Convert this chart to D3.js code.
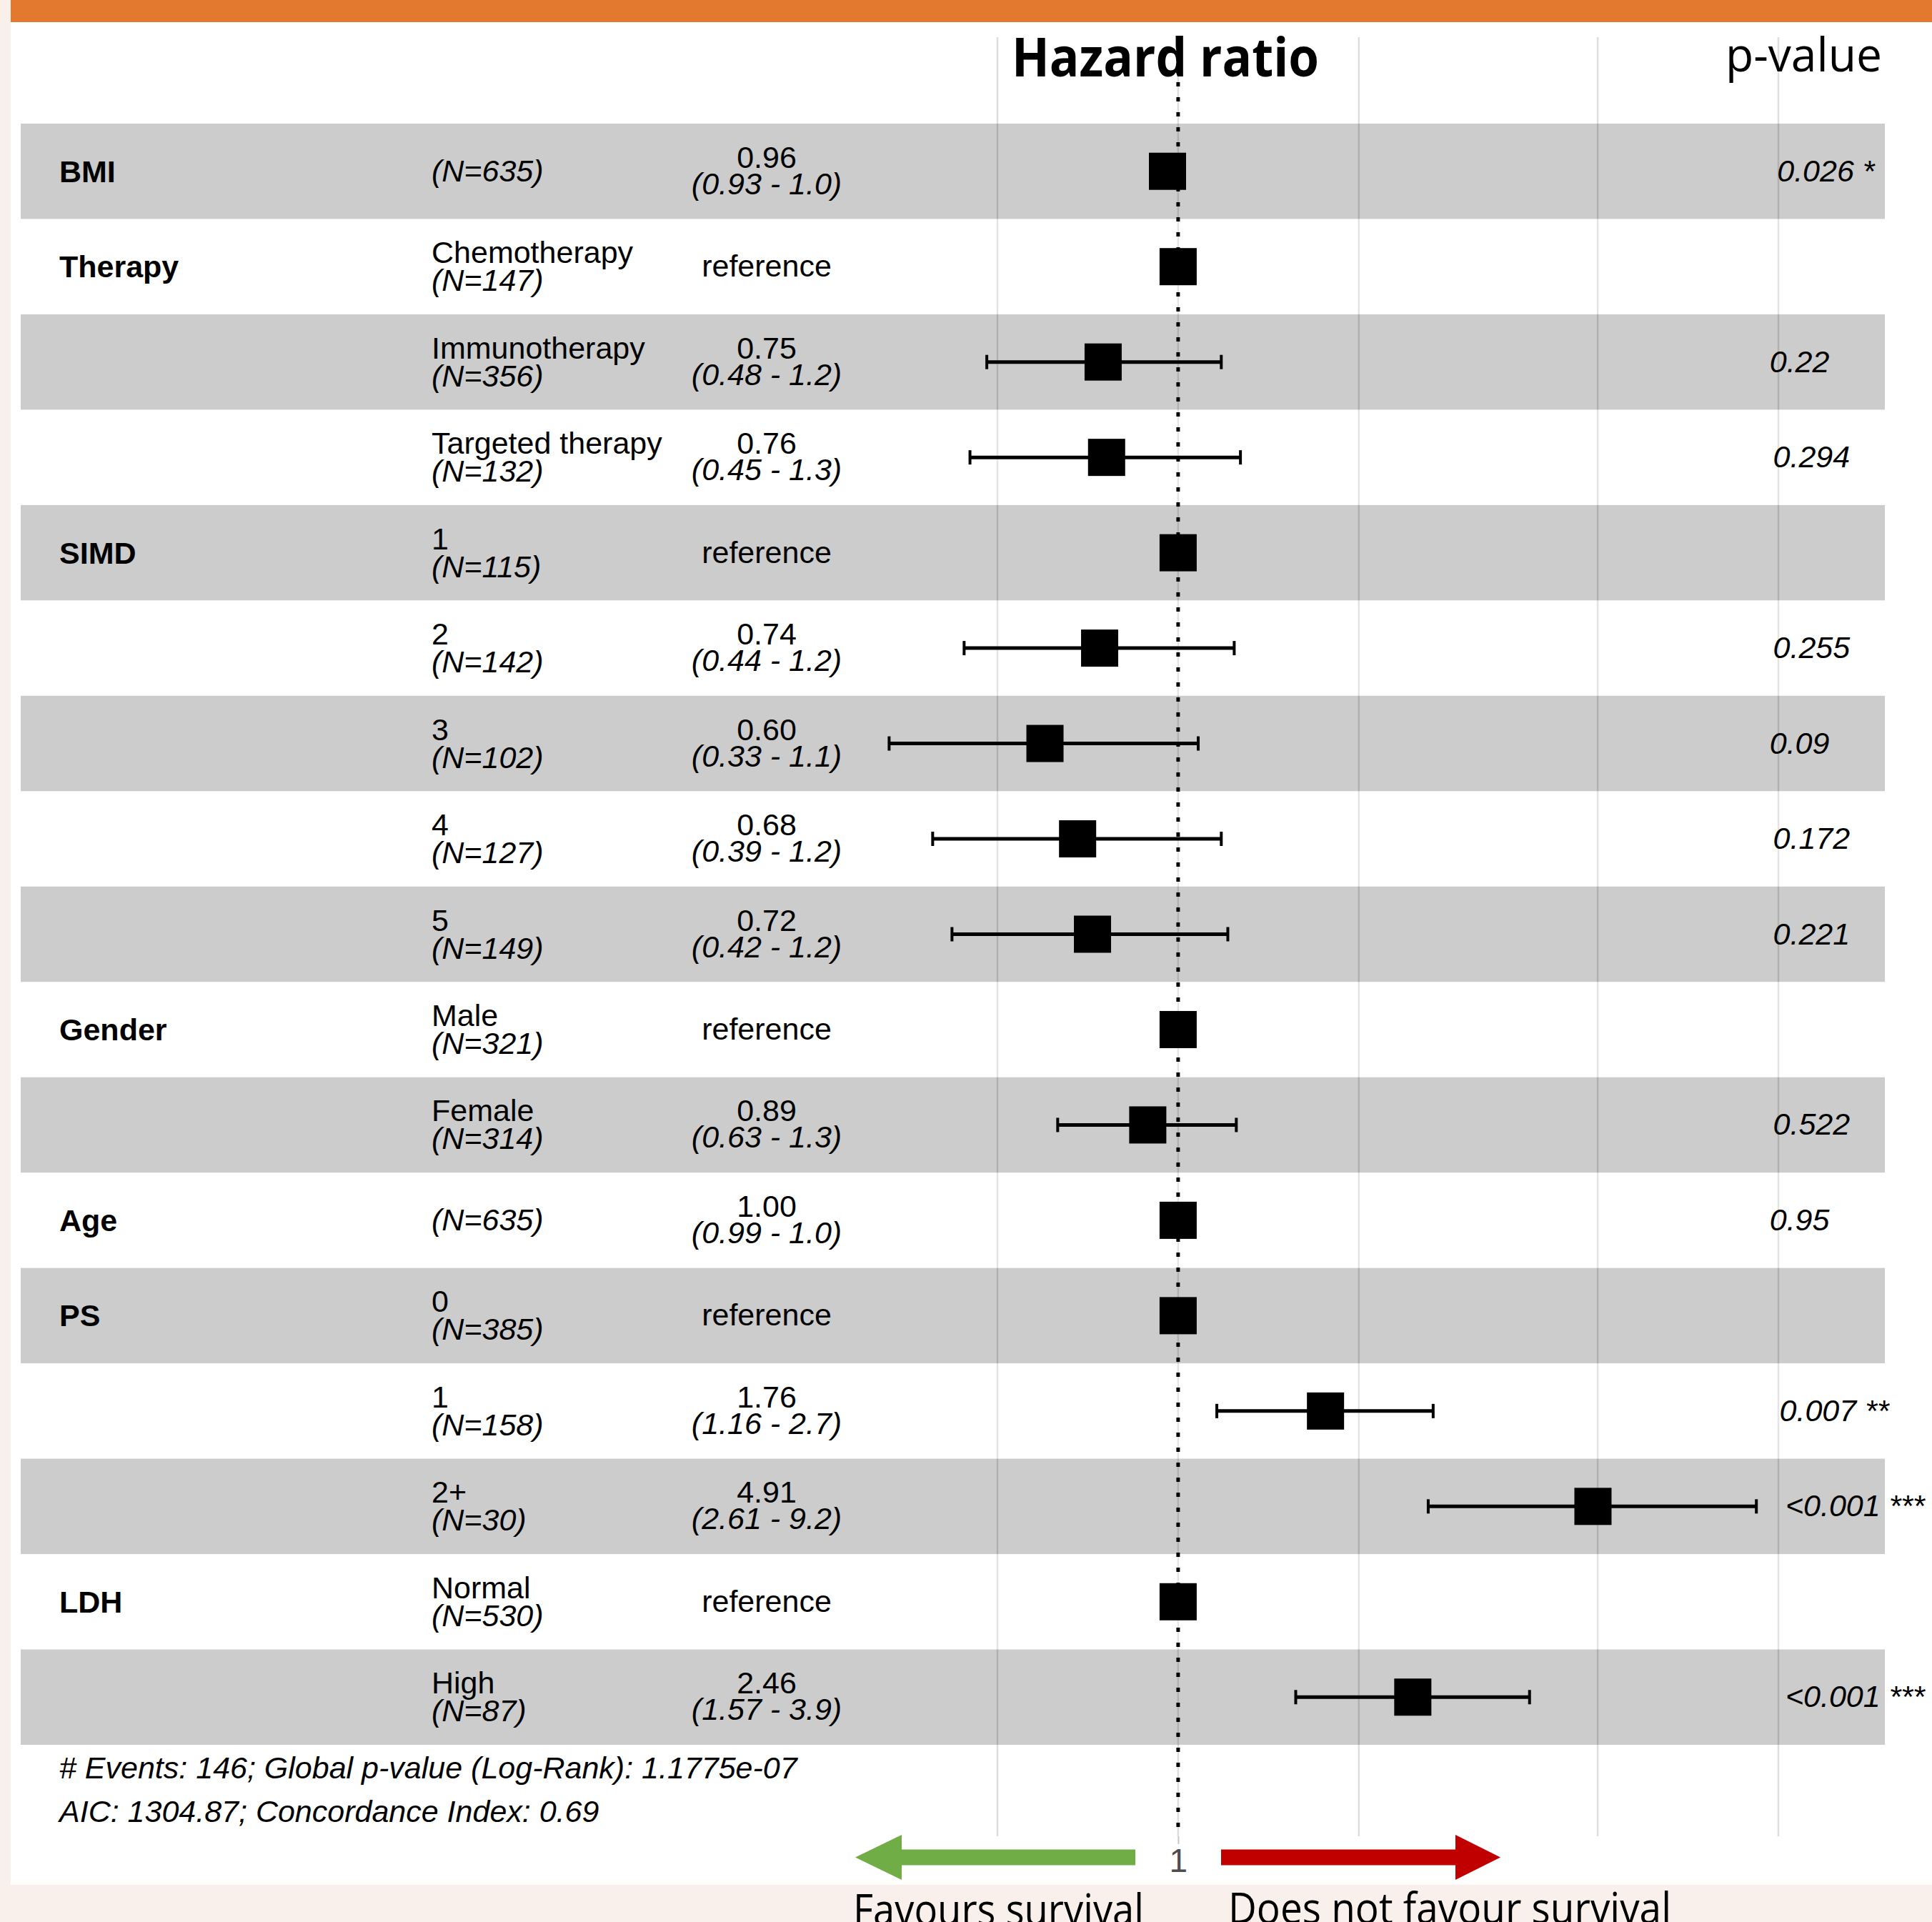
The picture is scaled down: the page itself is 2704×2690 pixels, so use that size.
<!DOCTYPE html>
<html>
<head>
<meta charset="utf-8">
<script src="https://cdn.jsdelivr.net/npm/d3@7"></script>
<style>
  html, body { margin: 0; padding: 0; background: #faf0eb; }
  svg { display: block; }
</style>
</head>
<body>
<div id="chart"></div>
<script>
(function forestPlot() {
  // rows, top to bottom
  const VARIABLES = ['BMI', 'Therapy', '', '', 'SIMD', '', '', '', '', 'Gender', '', 'Age', 'PS', '', '', 'LDH', ''];
  const LEVELS = ['', 'Chemotherapy', 'Immunotherapy', 'Targeted therapy', '1', '2', '3', '4', '5',
    'Male', 'Female', '', '0', '1', '2+', 'Normal', 'High'];
  const N_COUNTS = [635, 147, 356, 132, 115, 142, 102, 127, 149, 321, 314, 635, 385, 158, 30, 530, 87];
  const HR = [0.96, 1, 0.75, 0.76, 1, 0.74, 0.60, 0.68, 0.72, 1, 0.89, 1.00, 1, 1.76, 4.91, 1, 2.46];
  const CI_LOW = [0.93, null, 0.48, 0.45, null, 0.44, 0.33, 0.39, 0.42, null, 0.63, 0.99, null, 1.16, 2.61, null, 1.57];
  const CI_HIGH = [1.00, null, 1.18, 1.27, null, 1.24, 1.08, 1.18, 1.21, null, 1.25, 1.01, null, 2.66, 9.19, null, 3.85];
  const CI_LABELS = ['(0.93 - 1.0)', '', '(0.48 - 1.2)', '(0.45 - 1.3)', '', '(0.44 - 1.2)', '(0.33 - 1.1)',
    '(0.39 - 1.2)', '(0.42 - 1.2)', '', '(0.63 - 1.3)', '(0.99 - 1.0)', '', '(1.16 - 2.7)', '(2.61 - 9.2)', '', '(1.57 - 3.9)'];
  const P_LABELS = ['0.026 *', '', '0.22', '0.294', '', '0.255', '0.09', '0.172', '0.221', '', '0.522', '0.95',
    '', '0.007 **', '<0.001 ***', '', '<0.001 ***'];

  const GRID_BREAKS = [0.5, 1, 2, 5, 10];
  const AXIS_LABELS = [1];
  const FOOTER_LINES = [
    '# Events: 146; Global p-value (Log-Rank): 1.1775e-07',
    'AIC: 1304.87; Concordance Index: 0.69'
  ];

  const W = 2704, H = 2690;
  const BODY_FONT = "'Liberation Sans', Arial, Helvetica, sans-serif";
  const SLIDE_FONT = "'Open Sans', 'Noto Sans', sans-serif";
  const FS = 43;

  const svg = d3.select('#chart').append('svg')
    .attr('width', W)
    .attr('height', H);

  // slide background
  svg.append('rect').attr('x', 0).attr('y', 0).attr('width', W).attr('height', H).attr('fill', '#faf0eb');
  svg.append('rect').attr('x', 15).attr('y', 0).attr('width', W - 15).attr('height', 2638).attr('fill', '#ffffff');
  svg.append('rect').attr('x', 15).attr('y', 0).attr('width', W - 15).attr('height', 31).attr('fill', '#e3792e');

  const x = d3.scaleLog().domain([0.5, 10]).range([1396, 2489]);
  const y = d3.scaleBand().domain(d3.range(VARIABLES.length)).range([173, 2442]);
  const panelTop = 52, panelBottom = 2570;
  const cy = i => y(i) + y.bandwidth() / 2;

  // grid lines
  svg.append('g')
    .selectAll('line')
    .data(GRID_BREAKS)
    .join('line')
    .attr('x1', d => x(d)).attr('x2', d => x(d))
    .attr('y1', panelTop).attr('y2', panelBottom)
    .attr('stroke', '#dedede')
    .attr('stroke-width', 2.5);

  // axis (only "1" survives in the picture)
  svg.append('g')
    .attr('transform', `translate(0,${panelBottom})`)
    .call(d3.axisBottom(x).tickValues(AXIS_LABELS).tickFormat(d3.format('d')).tickSize(11).tickPadding(6))
    .call(g => g.select('.domain').remove())
    .call(g => g.selectAll('line').attr('stroke', '#c8c8c8').attr('stroke-width', 2))
    .call(g => g.selectAll('text').attr('fill', '#4d4d4d').attr('font-size', 46).attr('font-family', BODY_FONT));

  // alternating row bands
  svg.append('g')
    .selectAll('rect')
    .data(d3.range(VARIABLES.length))
    .join('rect')
    .attr('x', 29)
    .attr('width', 2638 - 29)
    .attr('y', i => y(i))
    .attr('height', y.bandwidth())
    .attr('fill', i => i % 2 === 0 ? '#000000' : '#ffffff')
    .attr('fill-opacity', 0.2);

  // reference line at HR = 1
  svg.append('line')
    .attr('x1', x(1)).attr('x2', x(1))
    .attr('y1', panelTop).attr('y2', panelBottom - 6)
    .attr('stroke', '#000')
    .attr('stroke-width', 5)
    .attr('stroke-dasharray', '6,15');

  // error bars
  const bars = svg.append('g');
  HR.forEach((hr, i) => {
    if (CI_LOW[i] == null) return;
    const c = cy(i);
    const capH = 10;
    bars.append('line')
      .attr('x1', x(CI_LOW[i])).attr('x2', x(CI_HIGH[i]))
      .attr('y1', c).attr('y2', c)
      .attr('stroke', '#000').attr('stroke-width', 5);
    [CI_LOW[i], CI_HIGH[i]].forEach(v => {
      bars.append('line')
        .attr('x1', x(v)).attr('x2', x(v))
        .attr('y1', c - capH).attr('y2', c + capH)
        .attr('stroke', '#000').attr('stroke-width', 4);
    });
  });

  // point estimates
  const box = 52;
  svg.append('g')
    .selectAll('rect')
    .data(HR)
    .join('rect')
    .attr('x', d => x(d) - box / 2)
    .attr('y', (d, i) => cy(i) - box / 2)
    .attr('width', box).attr('height', box)
    .attr('fill', '#000');

  const txt = svg.append('g')
    .attr('font-family', BODY_FONT)
    .attr('font-size', FS)
    .attr('fill', '#000');

  VARIABLES.forEach((name, i) => {
    const c = cy(i);
    if (name) {
      txt.append('text').attr('x', 83).attr('y', c + 15)
        .attr('font-weight', 'bold').text(name);
    }
    if (LEVELS[i]) {
      txt.append('text').attr('x', 604).attr('y', c - 5).text(LEVELS[i]);
      txt.append('text').attr('x', 604).attr('y', c + 34)
        .attr('font-style', 'italic').text(`(N=${N_COUNTS[i]})`);
    } else {
      txt.append('text').attr('x', 604).attr('y', c + 14)
        .attr('font-style', 'italic').text(`(N=${N_COUNTS[i]})`);
    }
    if (CI_LOW[i] == null) {
      txt.append('text').attr('x', 1073).attr('y', c + 14)
        .attr('text-anchor', 'middle').text('reference');
    } else {
      txt.append('text').attr('x', 1073).attr('y', c - 5)
        .attr('text-anchor', 'middle').text(HR[i].toFixed(2));
      txt.append('text').attr('x', 1073).attr('y', c + 32)
        .attr('text-anchor', 'middle').attr('font-style', 'italic').text(CI_LABELS[i]);
    }
    if (P_LABELS[i]) {
      // hjust = -0.2 like ggforest
      txt.append('text').attr('y', c + 14)
        .attr('font-style', 'italic').text(P_LABELS[i])
        .each(function () {
          d3.select(this).attr('x', 2460 + 0.2 * this.getComputedTextLength());
        });
    }
  });

  // model summary
  FOOTER_LINES.forEach((line, k) => {
    txt.append('text').attr('x', 83).attr('y', 2489 + k * 61)
      .attr('font-style', 'italic').text(line);
  });

  // slide overlays
  svg.append('text')
    .attr('x', 1416).attr('y', 107)
    .attr('font-family', SLIDE_FONT).attr('font-weight', 'bold').attr('font-size', 76)
    .attr('textLength', 430).attr('lengthAdjust', 'spacingAndGlyphs')
    .attr('fill', '#000')
    .text('Hazard ratio');

  svg.append('text')
    .attr('x', 2415).attr('y', 100)
    .attr('font-family', SLIDE_FONT).attr('font-size', 65)
    .attr('textLength', 219).attr('lengthAdjust', 'spacingAndGlyphs')
    .attr('fill', '#000')
    .text('p-value');

  const arrowY = 2599.5, headH = 31.5, shaftH = 11;
  const leftArrow = [[1197, arrowY], [1262, arrowY - headH], [1262, arrowY - shaftH], [1589, arrowY - shaftH],
    [1589, arrowY + shaftH], [1262, arrowY + shaftH], [1262, arrowY + headH]];
  const rightArrow = [[2100, arrowY], [2037, arrowY - headH], [2037, arrowY - shaftH], [1709, arrowY - shaftH],
    [1709, arrowY + shaftH], [2037, arrowY + shaftH], [2037, arrowY + headH]];
  svg.append('path').attr('d', d3.line()(leftArrow) + 'Z').attr('fill', '#70ad47');
  svg.append('path').attr('d', d3.line()(rightArrow) + 'Z').attr('fill', '#c00000');

  svg.append('text')
    .attr('x', 1194).attr('y', 2694)
    .attr('font-family', SLIDE_FONT).attr('font-size', 60)
    .attr('textLength', 407).attr('lengthAdjust', 'spacingAndGlyphs')
    .attr('fill', '#000')
    .text('Favours survival');

  svg.append('text')
    .attr('x', 1719).attr('y', 2692)
    .attr('font-family', SLIDE_FONT).attr('font-size', 60)
    .attr('textLength', 620).attr('lengthAdjust', 'spacingAndGlyphs')
    .attr('fill', '#000')
    .text('Does not favour survival');
})();
</script>
</body>
</html>
